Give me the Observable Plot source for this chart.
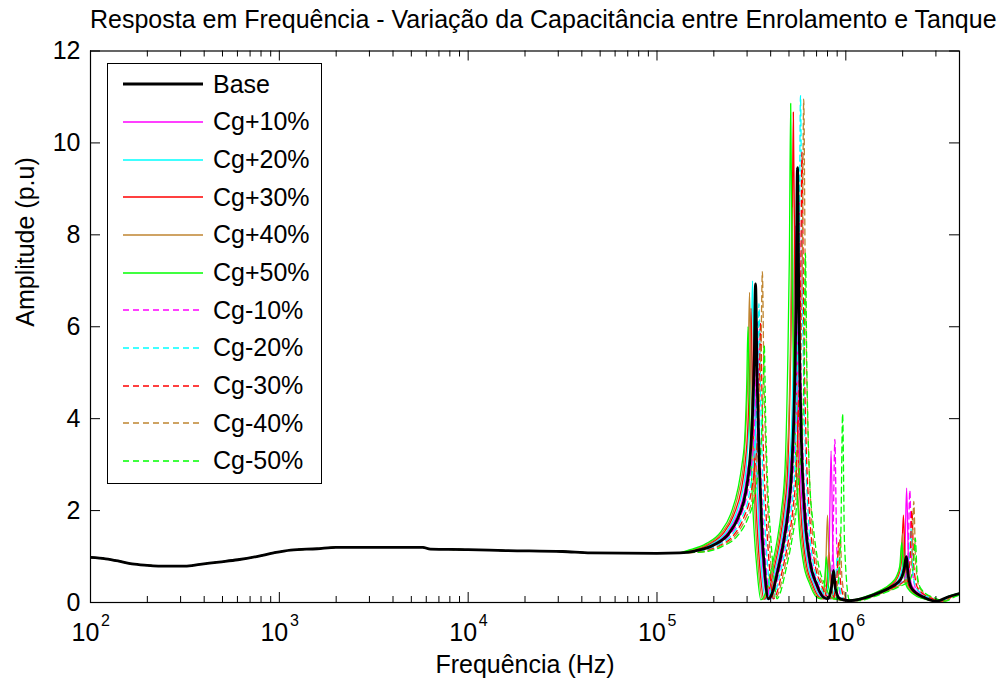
<!DOCTYPE html>
<html><head><meta charset="utf-8">
<script src="https://cdn.jsdelivr.net/npm/d3@7"></script>
<script src="https://cdn.jsdelivr.net/npm/@observablehq/plot@0.6"></script>
<style>
body{margin:0;background:#fff;}
#wrap{position:relative;width:998px;height:686px;font-family:'Liberation Sans',Arial,sans-serif;color:#000;}
#title{height:38px;line-height:38px;font-size:25px;text-align:center;margin-left:90px;width:869px;white-space:nowrap;}
#legend{position:absolute;left:107px;top:63px;width:213px;height:419px;border:1px solid #000;background:#fff;}
.row{position:absolute;left:0;height:38px;display:flex;align-items:center;font-size:25px;white-space:nowrap;}
.row svg{margin-left:15px;margin-right:10px;}
</style></head>
<body><div id="wrap"><div id="title"></div><div id="chart"></div><div id="legend"></div></div>
<script>
// ---- text ----
const titleText = "Resposta em Frequência - Variação da Capacitância entre Enrolamento e Tanque";
const xLabel = "Frequência (Hz)";
const yLabel = "Amplitude (p.u)";
const seriesNames = ["Base","Cg+10%","Cg+20%","Cg+30%","Cg+40%","Cg+50%","Cg-10%","Cg-20%","Cg-30%","Cg-40%","Cg-50%"];
const seriesColors = ["#000000","#ff00ff","#00ffff","#ff0000","#bf8530","#00ff00","#ff00ff","#00ffff","#ff0000","#bf8530","#00ff00"];
const dashedSeries = ["Cg-10%","Cg-20%","Cg-30%","Cg-40%","Cg-50%"];
// ---- ticks ----
const xMajor = [1e2,1e3,1e4,1e5,1e6];
const xExp = ["2","3","4","5","6"];
const xMinor = [2e2,3e2,4e2,5e2,6e2,7e2,8e2,9e2,2e3,3e3,4e3,5e3,6e3,7e3,8e3,9e3,2e4,3e4,4e4,5e4,6e4,7e4,8e4,9e4,2e5,3e5,4e5,5e5,6e5,7e5,8e5,9e5,2e6,3e6];
const yTicks = [0,2,4,6,8,10,12];
// ---- data: [log10(frequency Hz), amplitude p.u] ----
const lowBand = [[2.0,0.98],[2.08,0.95],[2.15,0.9],[2.22,0.84],[2.3,0.81],[2.4,0.79],[2.5,0.79],[2.58,0.83],[2.68,0.88],[2.78,0.93],[2.88,1.0],[2.97,1.08],[3.06,1.14],[3.2,1.17],[3.3,1.2],[3.5,1.2],[3.76,1.2],[3.8,1.16],[4.0,1.15],[4.2,1.13],[4.5,1.11],[4.65,1.08],[5.0,1.07],[5.12,1.08]];
const base = [[5.2,1.12],[5.3,1.25],[5.38,1.5],[5.43,1.85],[5.47,2.4],[5.49,3.0],[5.505,4.0],[5.515,5.3],[5.522,6.93],[5.53,4.9],[5.542,3.0],[5.555,1.6],[5.57,0.7],[5.59,0.08],
 [5.61,0.2],[5.64,0.7],[5.67,1.3],[5.695,2.0],[5.715,3.0],[5.728,4.5],[5.737,6.5],[5.744,9.46],[5.752,6.2],[5.765,3.5],[5.785,1.8],[5.81,0.9],[5.845,0.4],[5.88,0.12],[5.905,0.08],
 [5.925,0.35],[5.935,0.7],[5.945,0.3],[5.97,0.08],[6.02,0.04],[6.1,0.1],[6.18,0.22],[6.25,0.36],[6.29,0.5],[6.31,0.75],[6.32,1.0],[6.33,0.6],[6.35,0.3],[6.42,0.1],[6.48,0.03],[6.54,0.12],[6.6056,0.2]];
const cgP10 = [[5.192,1.12],[5.292,1.26],[5.372,1.52],[5.422,1.87],[5.462,2.4],[5.482,2.95],[5.497,3.3],[5.507,4.4],[5.514,5.6],[5.522,3.9],[5.534,2.4],[5.547,1.5],[5.562,0.7],[5.582,0.08],
 [5.602,0.2],[5.632,0.7],[5.662,1.3],[5.687,2.0],[5.707,3.0],[5.72,3.9],[5.729,5.7],[5.736,8.2],[5.744,5.4],[5.757,3.0],[5.777,1.8],[5.802,0.9],[5.837,0.4],[5.872,0.12],[5.897,0.08],
 [5.912,1.2],[5.922,3.3],[5.932,1.1],[5.957,0.08],[6.02,0.04],[6.1,0.1],[6.18,0.22],[6.25,0.38],[6.292,0.55],[6.312,1.0],[6.322,2.49],[6.332,0.9],[6.352,0.35],[6.422,0.1],[6.49,0.03],[6.54,0.12],[6.6056,0.2]];
const cgP20 = [[5.184,1.12],[5.284,1.26],[5.364,1.52],[5.414,1.88],[5.454,2.45],[5.474,3.0],[5.489,4.1],[5.499,5.4],[5.506,7.0],[5.514,4.9],[5.526,3.0],[5.539,1.6],[5.554,0.7],[5.574,0.07],
 [5.595,0.2],[5.625,0.7],[5.655,1.3],[5.68,2.0],[5.7,3.0],[5.713,3.8],[5.722,5.5],[5.729,8.0],[5.737,5.3],[5.75,3.0],[5.77,1.8],[5.795,0.9],[5.83,0.4],[5.865,0.12],[5.89,0.08],
 [5.905,0.4],[5.915,0.9],[5.925,0.35],[5.95,0.08],[6.02,0.04],[6.1,0.1],[6.18,0.24],[6.25,0.37],[6.28,0.5],[6.3,0.8],[6.31,1.2],[6.32,0.6],[6.34,0.3],[6.41,0.1],[6.49,0.03],[6.54,0.13],[6.6056,0.19]];
const cgP30 = [[5.176,1.12],[5.276,1.27],[5.356,1.53],[5.406,1.9],[5.446,2.45],[5.466,3.0],[5.481,3.8],[5.491,5.0],[5.498,6.4],[5.506,4.5],[5.518,2.8],[5.531,1.6],[5.546,0.7],[5.566,0.07],
 [5.588,0.2],[5.618,0.7],[5.648,1.3],[5.673,2.0],[5.693,3.0],[5.706,5.0],[5.715,7.3],[5.722,10.67],[5.73,7.0],[5.743,3.9],[5.763,1.9],[5.788,0.9],[5.823,0.4],[5.858,0.12],[5.883,0.08],
 [5.9,0.45],[5.91,1.1],[5.92,0.4],[5.945,0.08],[6.02,0.04],[6.1,0.11],[6.18,0.24],[6.24,0.38],[6.275,0.55],[6.295,0.9],[6.305,1.9],[6.315,0.8],[6.335,0.35],[6.405,0.1],[6.49,0.03],[6.54,0.12],[6.6056,0.2]];
const cgP40 = [[5.168,1.12],[5.268,1.27],[5.348,1.54],[5.398,1.9],[5.438,2.5],[5.458,3.0],[5.473,4.0],[5.483,5.2],[5.49,6.75],[5.498,4.7],[5.51,2.9],[5.523,1.6],[5.538,0.7],[5.558,0.07],
 [5.581,0.2],[5.611,0.7],[5.641,1.3],[5.666,2.0],[5.686,3.0],[5.699,4.1],[5.708,5.9],[5.715,8.6],[5.723,5.7],[5.736,3.2],[5.756,1.8],[5.781,0.9],[5.816,0.4],[5.851,0.12],[5.876,0.08],
 [5.893,0.7],[5.903,1.9],[5.913,0.65],[5.938,0.08],[6.02,0.04],[6.1,0.11],[6.18,0.25],[6.24,0.4],[6.27,0.55],[6.29,0.85],[6.3,1.5],[6.31,0.7],[6.33,0.33],[6.4,0.1],[6.49,0.03],[6.54,0.12],[6.6056,0.2]];
const cgP50 = [[5.16,1.13],[5.26,1.28],[5.34,1.55],[5.39,1.92],[5.43,2.5],[5.45,3.0],[5.465,3.6],[5.475,4.7],[5.482,6.0],[5.49,4.2],[5.502,2.6],[5.515,1.5],[5.53,0.7],[5.55,0.06],
 [5.574,0.2],[5.604,0.7],[5.634,1.3],[5.659,2.0],[5.679,3.0],[5.692,5.1],[5.701,7.5],[5.708,10.86],[5.716,7.1],[5.729,4.0],[5.749,1.9],[5.774,0.9],[5.809,0.4],[5.844,0.12],[5.869,0.08],
 [5.887,0.4],[5.897,1.0],[5.907,0.38],[5.932,0.08],[6.02,0.05],[6.1,0.12],[6.18,0.26],[6.24,0.42],[6.266,0.55],[6.286,0.8],[6.296,1.3],[6.306,0.65],[6.326,0.32],[6.396,0.1],[6.49,0.03],[6.54,0.13],[6.6056,0.21]];
const cgM10 = [[5.209,1.11],[5.309,1.24],[5.389,1.49],[5.439,1.84],[5.479,2.4],[5.499,2.95],[5.514,3.6],[5.524,4.8],[5.531,6.1],[5.539,4.3],[5.551,2.7],[5.564,1.6],[5.579,0.7],[5.599,0.08],
 [5.618,0.2],[5.648,0.7],[5.678,1.3],[5.703,2.0],[5.723,3.0],[5.736,4.1],[5.745,6.1],[5.752,8.8],[5.76,5.8],[5.773,3.3],[5.793,1.8],[5.818,0.9],[5.853,0.4],[5.888,0.12],[5.913,0.08],
 [5.932,1.3],[5.942,3.55],[5.952,1.2],[5.977,0.08],[6.03,0.04],[6.1,0.1],[6.18,0.22],[6.25,0.35],[6.309,0.5],[6.329,0.95],[6.339,2.44],[6.349,0.9],[6.369,0.32],[6.439,0.1],[6.5,0.03],[6.55,0.12],[6.6056,0.19]];
const cgM20 = [[5.218,1.11],[5.318,1.24],[5.398,1.48],[5.448,1.83],[5.488,2.35],[5.508,2.95],[5.523,3.8],[5.533,5.0],[5.54,6.5],[5.548,4.6],[5.56,2.8],[5.573,1.6],[5.588,0.7],[5.608,0.08],
 [5.626,0.2],[5.656,0.7],[5.686,1.3],[5.711,2.0],[5.731,3.0],[5.744,5.2],[5.753,7.6],[5.76,11.03],[5.768,7.3],[5.781,4.1],[5.801,1.9],[5.826,0.9],[5.861,0.4],[5.896,0.12],[5.921,0.08],
 [5.945,0.4],[5.955,1.0],[5.965,0.38],[5.99,0.07],[6.04,0.04],[6.1,0.1],[6.18,0.22],[6.25,0.34],[6.315,0.5],[6.335,0.85],[6.345,1.6],[6.355,0.65],[6.375,0.3],[6.445,0.1],[6.5,0.03],[6.55,0.12],[6.6056,0.18]];
const cgM30 = [[5.227,1.1],[5.327,1.23],[5.407,1.47],[5.457,1.82],[5.497,2.35],[5.517,2.9],[5.532,3.6],[5.542,4.8],[5.549,6.1],[5.557,4.3],[5.569,2.7],[5.582,1.6],[5.597,0.7],[5.617,0.08],
 [5.634,0.2],[5.664,0.7],[5.694,1.3],[5.719,2.0],[5.739,3.0],[5.752,4.6],[5.761,6.8],[5.768,9.8],[5.776,6.5],[5.789,3.6],[5.809,1.85],[5.834,0.9],[5.869,0.4],[5.904,0.12],[5.929,0.08],
 [5.952,0.5],[5.962,1.3],[5.972,0.45],[5.997,0.07],[6.05,0.04],[6.11,0.1],[6.19,0.22],[6.26,0.34],[6.32,0.52],[6.34,0.9],[6.35,2.0],[6.36,0.8],[6.38,0.32],[6.45,0.1],[6.51,0.03],[6.56,0.12],[6.6056,0.18]];
const cgM40 = [[5.236,1.1],[5.336,1.23],[5.416,1.46],[5.466,1.8],[5.506,2.3],[5.526,2.9],[5.541,4.2],[5.551,5.6],[5.558,7.2],[5.566,5.0],[5.578,3.1],[5.591,1.65],[5.606,0.7],[5.626,0.08],
 [5.643,0.2],[5.673,0.7],[5.703,1.3],[5.728,2.0],[5.748,3.0],[5.761,5.1],[5.77,7.6],[5.777,10.95],[5.785,7.2],[5.798,4.0],[5.818,1.9],[5.843,0.9],[5.878,0.4],[5.913,0.12],[5.938,0.08],
 [5.96,0.55],[5.97,1.5],[5.98,0.5],[6.005,0.07],[6.06,0.04],[6.12,0.1],[6.2,0.22],[6.27,0.34],[6.33,0.52],[6.35,0.95],[6.36,2.2],[6.37,0.85],[6.39,0.32],[6.46,0.1],[6.52,0.03],[6.56,0.11],[6.6056,0.17]];
const cgM50 = [[5.246,1.1],[5.346,1.22],[5.426,1.45],[5.476,1.78],[5.516,2.3],[5.536,2.85],[5.551,3.4],[5.561,4.4],[5.568,5.6],[5.576,3.9],[5.588,2.4],[5.601,1.5],[5.616,0.7],[5.636,0.08],
 [5.652,0.2],[5.682,0.7],[5.712,1.3],[5.737,2.0],[5.757,3.0],[5.77,3.6],[5.779,5.2],[5.786,7.6],[5.794,5.0],[5.807,2.8],[5.827,1.7],[5.852,0.9],[5.887,0.4],[5.922,0.12],[5.947,0.08],
 [5.973,1.4],[5.983,4.1],[5.993,1.3],[6.018,0.07],[6.07,0.04],[6.13,0.1],[6.21,0.22],[6.28,0.34],[6.338,0.48],[6.358,0.8],[6.368,1.4],[6.378,0.6],[6.398,0.3],[6.468,0.1],[6.53,0.03],[6.57,0.11],[6.6056,0.17]];
const seriesData = [base,cgP10,cgP20,cgP30,cgP40,cgP50,cgM10,cgM20,cgM30,cgM40,cgM50];

// ---- build rows ----
const rows = [];
seriesNames.forEach((name, i) => {
  lowBand.concat(seriesData[i]).forEach(([lf, a]) => rows.push({series: name, f: Math.pow(10, lf), a}));
});
const solidRows = rows.filter(r => r.series !== "Base" && !dashedSeries.includes(r.series));
const dashedRows = rows.filter(r => dashedSeries.includes(r.series));
const baseRows = rows.filter(r => r.series === "Base");

document.getElementById("title").textContent = titleText;

const W = 998, H = 648, mL = 90, mR = 39, mT = 12.5, mB = 84;
const fw = W - mL - mR, fh = H - mT - mB;
const majorLen = 10, minorLen = 6;

const chart = Plot.plot({
  width: W, height: H,
  marginLeft: mL, marginRight: mR, marginTop: mT, marginBottom: mB,
  style: {fontFamily: "'Liberation Sans', Arial, sans-serif", fontSize: "25px", color: "#000", background: "#fff", overflow: "visible"},
  x: {type: "log", domain: [100, 4e6], axis: null},
  y: {domain: [0, 12], axis: null},
  color: {domain: seriesNames, range: seriesColors},
  marks: [
    Plot.line(solidRows, {x: "f", y: "a", z: "series", stroke: "series", strokeWidth: 1.3, curve: "monotone-x", clip: true}),
    Plot.line(dashedRows, {x: "f", y: "a", z: "series", stroke: "series", strokeWidth: 1.3, strokeDasharray: "6,4", curve: "monotone-x", clip: true}),
    Plot.line(baseRows, {x: "f", y: "a", z: "series", stroke: "series", strokeWidth: 2.8, curve: "monotone-x", clip: true}),
    Plot.frame({stroke: "#000", strokeWidth: 1.2}),
    // x ticks (inward, bottom and top)
    Plot.ruleX(xMajor, {x: d => d, insetTop: fh - majorLen, stroke: "#000"}),
    Plot.ruleX(xMajor, {x: d => d, insetBottom: fh - majorLen, stroke: "#000"}),
    Plot.ruleX(xMinor, {x: d => d, insetTop: fh - minorLen, stroke: "#000"}),
    Plot.ruleX(xMinor, {x: d => d, insetBottom: fh - minorLen, stroke: "#000"}),
    // y ticks (inward, left and right)
    Plot.ruleY(yTicks, {y: d => d, insetRight: fw - majorLen, stroke: "#000"}),
    Plot.ruleY(yTicks, {y: d => d, insetLeft: fw - majorLen, stroke: "#000"}),
    // tick labels
    Plot.text(yTicks, {y: d => d, text: d => String(d), frameAnchor: "left", dx: -10, textAnchor: "end", lineAnchor: "middle"}),
    Plot.text(xMajor, {x: d => d, text: () => "10", frameAnchor: "bottom", dx: -5, dy: 30, lineAnchor: "middle"}),
    Plot.text(xMajor, {x: d => d, text: (d, i) => xExp[i], frameAnchor: "bottom", dx: 15, dy: 18, fontSize: 16, lineAnchor: "middle"}),
    // axis labels
    Plot.text([xLabel], {text: d => d, frameAnchor: "bottom", dy: 62, lineAnchor: "middle"}),
    Plot.text([yLabel], {text: d => d, frameAnchor: "left", dx: -65, rotate: -90, lineAnchor: "middle"})
  ]
});
document.getElementById("chart").appendChild(chart);

// ---- legend ----
const legend = document.getElementById("legend");
seriesNames.forEach((name, i) => {
  const row = document.createElement("div");
  row.className = "row";
  row.style.top = (20.3 + 37.65 * i - 19) + "px";
  const dashed = dashedSeries.includes(name);
  const sw = name === "Base" ? 3 : 1.3;
  row.innerHTML = `<svg width="80" height="6"><line x1="0" y1="3" x2="80" y2="3" stroke="${seriesColors[i]}" stroke-width="${sw}" ${dashed ? 'stroke-dasharray="6,4"' : ''}/></svg><span>${name}</span>`;
  legend.appendChild(row);
});
</script>
</body></html>
